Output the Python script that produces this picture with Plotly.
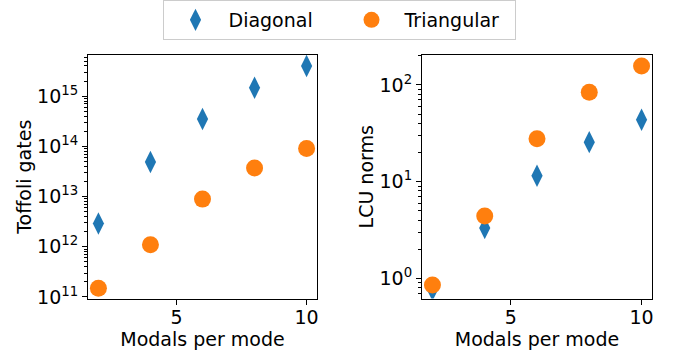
import plotly.graph_objects as go

modals = [2, 4, 6, 8, 10]
toffoli_diagonal = [2.9e12, 4.9e13, 3.5e14, 1.47e15, 4.0e15]
toffoli_triangular = [1.5e11, 1.1e12, 8.9e12, 3.7e13, 9.1e13]
lcu_diagonal = [0.76, 3.3, 11.5, 25.6, 43.6]
lcu_triangular = [0.85, 4.4, 27.7, 84.0, 157.0]

toffoli_exponents = [11, 12, 13, 14, 15]
lcu_exponents = [0, 1, 2]

BLUE = "#1f77b4"
ORANGE = "#ff7f0e"
FONT = "DejaVu Sans"
FS = 19


def minor_vals(lo, hi):
    return [m * 10 ** e for e in range(lo, hi) for m in range(2, 10)]


fig = go.Figure()

diam = dict(symbol="diamond-tall", size=16, color=BLUE, line=dict(width=0))
circ = dict(symbol="circle", size=17, color=ORANGE, line=dict(width=0))

fig.add_trace(go.Scatter(x=modals, y=toffoli_diagonal, mode="markers", marker=diam,
                         name="Diagonal", xaxis="x", yaxis="y", legendgroup="d"))
fig.add_trace(go.Scatter(x=modals, y=toffoli_triangular, mode="markers", marker=circ,
                         name="Triangular", xaxis="x", yaxis="y", legendgroup="t"))
fig.add_trace(go.Scatter(x=modals, y=lcu_diagonal, mode="markers", marker=diam,
                         name="Diagonal", xaxis="x2", yaxis="y2", showlegend=False, legendgroup="d"))
fig.add_trace(go.Scatter(x=modals, y=lcu_triangular, mode="markers", marker=circ,
                         name="Triangular", xaxis="x2", yaxis="y2", showlegend=False, legendgroup="t"))

W, H = 678, 354
ydom = [1 - 298.5 / H, 1 - 55 / H]

common_axis = dict(showline=True, linecolor="black", linewidth=1, mirror=True,
                   ticks="outside", ticklen=5, tickcolor="black", showgrid=False,
                   zeroline=False, automargin=False,
                   tickfont=dict(family=FONT, size=FS, color="black"))

xaxis_common = dict(common_axis, range=[1.6, 10.4], tick0=0, dtick=5, ticklabelstandoff=-3,
                    title=dict(text="Modals per mode", font=dict(family=FONT, size=FS, color="black"), standoff=0))


def log_axis(exps, rng, title):
    return dict(common_axis, type="log", range=rng,
                tickvals=[10 ** e for e in exps],
                ticktext=["10<sup>%d</sup>" % e for e in exps],
                minor=dict(ticks="outside", ticklen=3, tickcolor="black", showgrid=False,
                           tickvals=minor_vals(exps[0] - 1, exps[-1] + 1)),
                title=dict(text=title, font=dict(family=FONT, size=FS, color="black"), standoff=0))


fig.update_layout(
    width=W, height=H,
    margin=dict(l=0, r=0, t=0, b=0, autoexpand=False),
    paper_bgcolor="white", plot_bgcolor="white",
    font=dict(family=FONT, size=FS, color="black"),
    xaxis=dict(xaxis_common, domain=[88 / W, 317 / W], anchor="y"),
    yaxis=dict(log_axis(toffoli_exponents, [10.97, 15.82], "Toffoli gates"), domain=ydom, anchor="x"),
    xaxis2=dict(xaxis_common, domain=[422 / W, 652 / W], anchor="y2"),
    yaxis2=dict(log_axis(lcu_exponents, [-0.21, 2.31], "LCU norms"), domain=ydom, anchor="x2"),
    legend=dict(orientation="h", x=0.5, xanchor="center", y=1.0, yanchor="top",
                bordercolor="#cccccc", borderwidth=1, bgcolor="white", itemwidth=56,
                font=dict(family=FONT, size=FS, color="black"), entrywidth=105),
    showlegend=True,
)

fig.write_html("out.html", config={"displayModeBar": False},
               post_script="document.body.style.margin='0';")
